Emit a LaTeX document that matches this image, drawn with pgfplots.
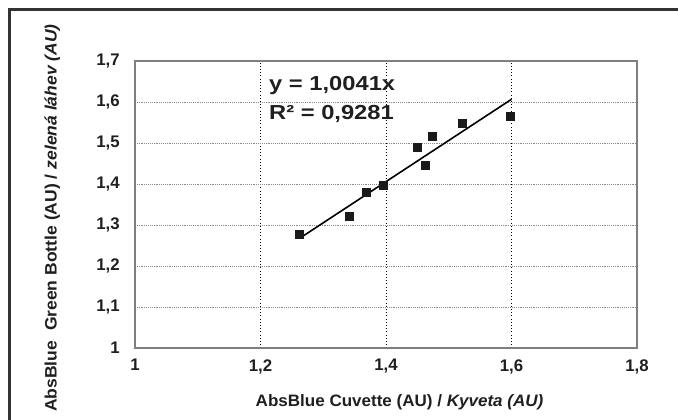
\documentclass[border=0pt]{standalone}
\usepackage{fontspec}
\setmainfont{Liberation Sans}
\usepackage{graphicx}
\usepackage{pgfplots}
\pgfplotsset{compat=1.18}
\definecolor{framegray}{HTML}{333333}
\definecolor{axgray}{HTML}{7F7F7F}
\definecolor{gridgray}{HTML}{8C8C8C}
\definecolor{markblk}{HTML}{1A1A1A}
\begin{document}
\begin{tikzpicture}
\useasboundingbox (0pt,0pt) rectangle (508.5pt,315pt);
\draw[framegray, line width=1.6pt] (7.1pt,-15pt) -- (7.1pt,307.9pt) -- (525pt,307.9pt);
\begin{axis}[
  at={(101.25pt,54pt)}, anchor=south west,
  scale only axis, width=376.5pt, height=215.25pt,
  xmin=1, xmax=1.8, ymin=1, ymax=1.7,
  xtick={1,1.2,1.4,1.6,1.8},
  ytick={1,1.1,1.2,1.3,1.4,1.5,1.6,1.7},
  major tick length=0pt,
  xmajorgrids, ymajorgrids,
  x grid style={black, dotted, line width=0.6pt},
  y grid style={gridgray, densely dotted, line width=0.6pt},
  axis line style={axgray, line width=1.2pt},
  /pgf/number format/use comma,
  /pgf/number format/assume math mode=true,
  tick label style={font=\fontsize{12.6}{14}\selectfont\bfseries, text=black!88},
  yticklabel style={xshift=-8pt},
  xticklabel style={yshift=-5pt},
  xlabel={\scalebox{1.03}[1]{AbsBlue Cuvette (AU) / \textit{Kyveta (AU)}}},
  ylabel={\scalebox{1.06}[1]{AbsBlue\ \ Green Bottle (AU) / \textit{zelená láhev (AU)}}},
  label style={font=\fontsize{12.4}{14}\selectfont\bfseries, text=black!88},
  xlabel style={at={(axis description cs:0.527,-0.19)}, anchor=center},
  ylabel style={at={(axis description cs:-0.165,0.453)}, anchor=center},
  clip=false,
]
\addplot[only marks, mark=square*, mark size=3pt, mark options={fill=markblk, draw=markblk}]
  coordinates {
  (1.262,1.277) (1.342,1.321) (1.368,1.381) (1.395,1.396)
  (1.450,1.490) (1.462,1.446) (1.473,1.516) (1.521,1.548) (1.598,1.565)
  };
\addplot[black, line width=1.2pt] coordinates {(1.264,1.2692) (1.600,1.6066)};
\node[anchor=base west, inner sep=0pt, font=\fontsize{15.2}{17}\selectfont\bfseries, text=black!88]
  at (axis cs:1.2135,1.6275) {\scalebox{1.17}[1]{y = 1,0041x}};
\node[anchor=base west, inner sep=0pt, font=\fontsize{15.2}{17}\selectfont\bfseries, text=black!88]
  at (axis cs:1.2135,1.557) {\scalebox{1.17}[1]{R² = 0,9281}};
\end{axis}
\end{tikzpicture}
\end{document}
